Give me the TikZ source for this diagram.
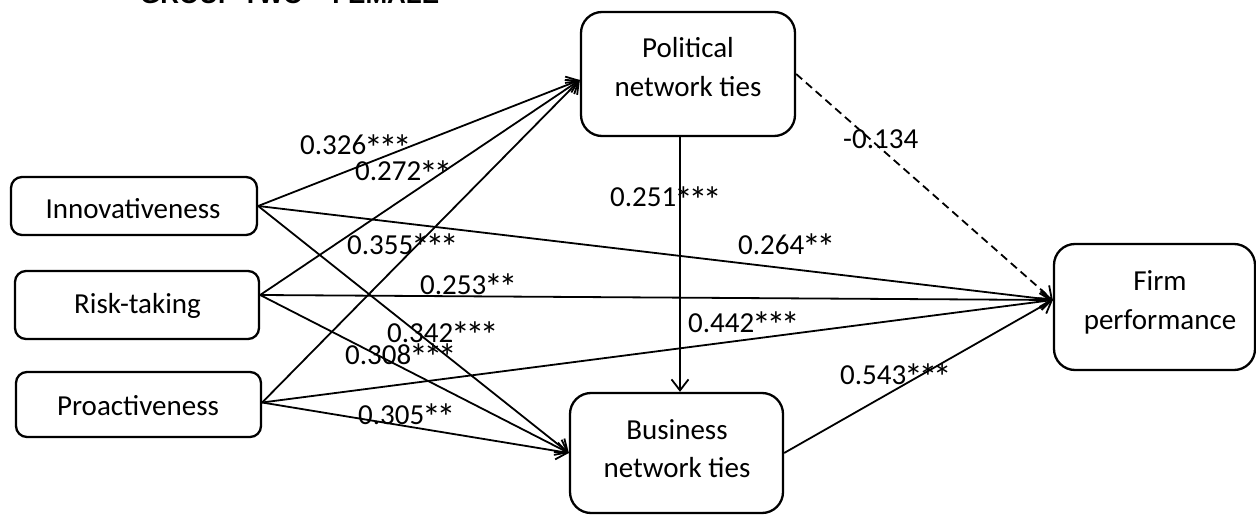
\documentclass[tikz,border=0pt]{standalone}
\usepackage{fontspec}
\setmainfont{Carlito}
\newfontfamily\titlefont{Liberation Sans}
\usetikzlibrary{arrows.meta,calc}
% significance star: a little larger and lower than the plain glyph
\newcommand\sigstar{\makebox[14.4pt]{\raisebox{-6.5pt}{\scalebox{1.3}{*}}}}
\begin{document}
\begin{tikzpicture}[x=1pt,y=-1pt,
  bigbox/.style={draw,line width=2.3pt,rounded corners=21pt,inner sep=0pt},
  smallbox/.style={draw,line width=2.3pt,rounded corners=11pt,inner sep=0pt},
  boxtext/.style={font=\fontsize{29}{38}\selectfont,inner sep=0pt,anchor=base},
  coef/.style={font=\fontsize{29}{34}\selectfont,inner sep=0pt,anchor=base west},
  effect/.style={line width=1.8pt,-{Straight Barb[length=11pt,width=17pt,line width=1.8pt]}},
  weak/.style={effect,dash pattern=on 8pt off 5pt}]
\useasboundingbox (0,0) rectangle (1256,516);

% heading, partly above the page edge
\node[anchor=base west,inner sep=0pt,font=\titlefont\bfseries\fontsize{26}{30}\selectfont] (title) at (140,4) {GROUP TWO – FEMALE};

% constructs
\node[smallbox,minimum width=246pt,minimum height=58pt] (inn) at (134,206) {};
\node[smallbox,minimum width=244pt,minimum height=68pt] (risk) at (137,305) {};
\node[smallbox,minimum width=245pt,minimum height=65pt] (pro) at (138.5,404.5) {};
\node[bigbox,minimum width=214pt,minimum height=124pt] (pol) at (688,74) {};
\node[bigbox,minimum width=213pt,minimum height=120pt] (bus) at (676.5,453) {};
\node[bigbox,minimum width=201pt,minimum height=126pt] (firm) at (1154.5,307) {};

\node[boxtext] (innT) at (133,218) {Innovativeness};
\node[boxtext] (riskT) at (137.5,313) {Risk-taking};
\node[boxtext] (proT) at (138,415) {Proactiveness};
\node[boxtext] (polT1) at (688,58) {Political};
\node[boxtext] (polT2) at (688,97) {network ties};
\node[boxtext] (busT1) at (677,439) {Business};
\node[boxtext] (busT2) at (677,477) {network ties};
\node[boxtext] (firmT1) at (1160,290) {Firm};
\node[boxtext] (firmT2) at (1160,329) {performance};

% attachment points
\coordinate (innO) at (inn.east);
\coordinate (riskO) at ($(risk.east)+(0,-10)$);
\coordinate (proO) at ($(pro.east)+(0,-2)$);
\coordinate (polI) at ($(pol.west)+(0,6)$);
\coordinate (busI) at (bus.west);
\coordinate (firmI) at ($(firm.west)+(0,-7)$);

% paths from the three orientations
\foreach \s in {innO,riskO,proO}{
  \draw[effect] (\s) -- (polI);
  \draw[effect] (\s) -- (busI);
  \draw[effect] (\s) -- (firmI);
}
\draw[effect] ($(pol.south)+(-8,0)$) -- ($(bus.north)+(3.5,0)$);
\draw[weak] (pol.east) -- (firmI);
\draw[effect] (bus.east) -- (firmI);

% coefficients (positions are baselines)
\node[coef] (c1) at (300,155) {0.326\sigstar\sigstar\sigstar};
\node[coef] (c2) at (355,181) {0.272\sigstar\sigstar};
\node[coef] (c3) at (347,254) {0.355\sigstar\sigstar\sigstar};
\node[coef] (c4) at (420,294) {0.253\sigstar\sigstar};
\node[coef] (c5) at (738,254) {0.264\sigstar\sigstar};
\node[coef] (c6) at (610,207) {0.251\sigstar\sigstar\sigstar};
\node[coef] (c7) at (843,149) {-0.134};
\node[coef] (c8) at (387,342) {0.342\sigstar\sigstar\sigstar};
\node[coef] (c9) at (345,364) {0.308\sigstar\sigstar\sigstar};
\node[coef] (c10) at (358,424) {0.305\sigstar\sigstar};
\node[coef] (c11) at (688,332) {0.442\sigstar\sigstar\sigstar};
\node[coef] (c12) at (840,384) {0.543\sigstar\sigstar\sigstar};
\end{tikzpicture}
\end{document}
